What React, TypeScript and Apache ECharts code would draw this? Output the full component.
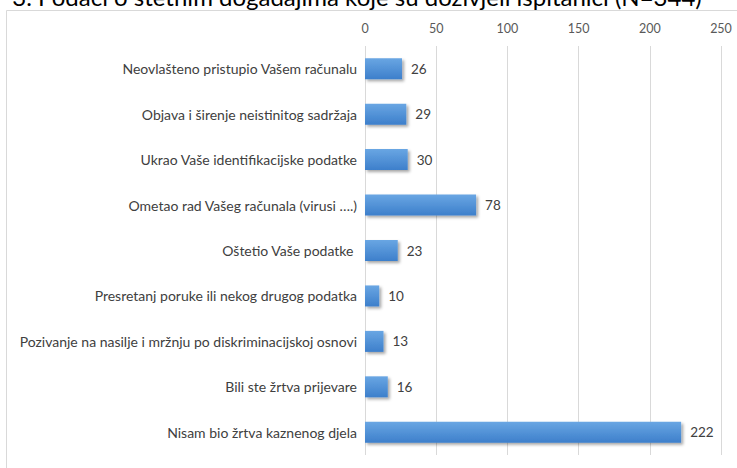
import React, { useEffect, useRef } from "react";
import * as echarts from "echarts";

const titleText = "3. Podaci o štetnim događajima koje su doživjeli ispitanici (N=344)";
const categories = [
  "Neovlašteno pristupio Vašem računalu",
  "Objava i širenje neistinitog sadržaja",
  "Ukrao Vaše identifikacijske podatke",
  "Ometao rad Vašeg računala (virusi ….)",
  "Oštetio Vaše podatke ",
  "Presretanj poruke ili nekog drugog podatka",
  "Pozivanje na nasilje i mržnju po diskriminacijskoj osnovi",
  "Bili ste žrtva prijevare",
  "Nisam bio žrtva kaznenog djela",
];
const values = [26, 29, 30, 78, 23, 10, 13, 16, 222];
const axisMin = 0;
const axisMax = 250;
const axisStep = 50;

export default function App() {
  const ref = useRef<HTMLDivElement>(null);
  useEffect(() => {
    if (!ref.current) return;
    const chart = echarts.init(ref.current, null, { renderer: "svg" });
    const font = "Lato, 'Open Sans', sans-serif";
    chart.setOption({
      animation: false,
      backgroundColor: "#ffffff",
      graphic: [
        {
          type: "rect",
          shape: { x: 6.5, y: 10.5, width: 900, height: 600 },
          style: { fill: "none", stroke: "#d9d9d9", lineWidth: 1 },
          silent: true,
          z: -1,
        },
        {
          type: "text",
          x: 357,
          y: 8,
          style: {
            text: titleText,
            fontFamily: font,
            fontSize: 24,
            fill: "#000000",
            align: "center",
            verticalAlign: "bottom",
          },
        },
      ],
      grid: { left: 365, right: 16, top: 46, bottom: 13, containLabel: false },
      xAxis: {
        type: "value",
        position: "top",
        min: axisMin,
        max: axisMax,
        interval: axisStep,
        axisLine: { show: false },
        axisTick: { show: false },
        axisLabel: { color: "#595959", fontFamily: font, fontSize: 12.5, margin: 11 },
        splitLine: { show: true, lineStyle: { color: "#d9d9d9", width: 1 } },
      },
      yAxis: {
        type: "category",
        data: categories,
        inverse: true,
        axisLine: { show: false },
        axisTick: { show: false },
        axisLabel: { color: "#404040", fontFamily: font, fontSize: 14, margin: 8 },
      },
      series: [
        {
          type: "bar",
          data: values,
          barWidth: 21,
          itemStyle: {
            color: new echarts.graphic.LinearGradient(0, 0, 0, 1, [
              { offset: 0, color: "#69a6e3" },
              { offset: 1, color: "#3d7fcb" },
            ]),
            shadowColor: "rgba(0,0,0,0.35)",
            shadowBlur: 3,
            shadowOffsetX: 2,
            shadowOffsetY: 2,
          },
          label: {
            show: true,
            position: "right",
            distance: 9,
            color: "#404040",
            fontFamily: font,
            fontSize: 13.5,
          },
        },
      ],
    });
    return () => chart.dispose();
  }, []);
  return (
    <div
      ref={ref}
      style={{ position: "fixed", left: 0, top: 0, width: 737, height: 468 }}
    />
  );
}
